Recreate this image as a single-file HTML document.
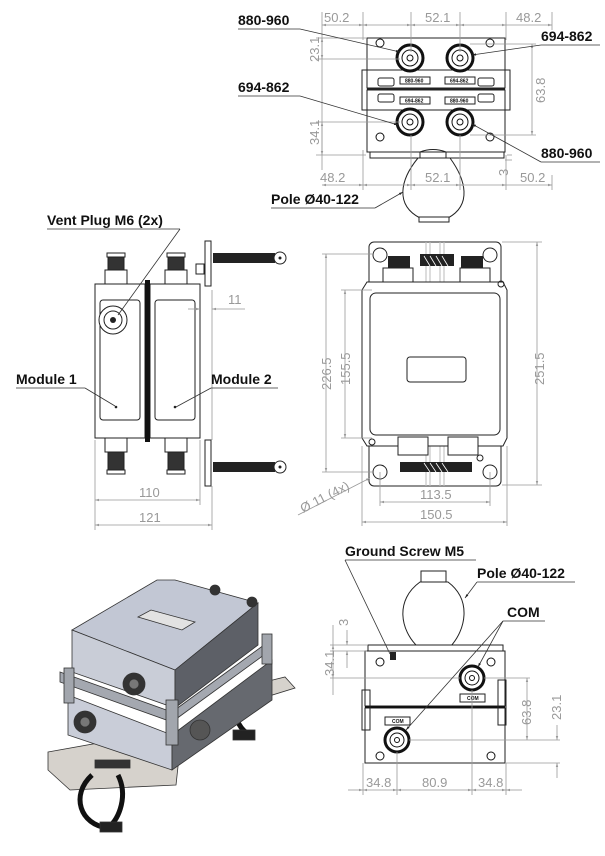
<!DOCTYPE html>
<html><head><meta charset="utf-8"><style>
html,body{margin:0;padding:0;background:#fff;}
svg{display:block;}
.d{font-family:"Liberation Sans",sans-serif;font-size:13px;fill:#999;}
.b{font-family:"Liberation Sans",sans-serif;font-size:14px;font-weight:bold;fill:#111;}
.t{font-family:"Liberation Sans",sans-serif;font-size:5px;font-weight:bold;fill:#111;}
.dl{stroke:#999;stroke-width:0.8;fill:none;}
.k{stroke:#222;stroke-width:1;fill:none;}
.kf{stroke:#222;stroke-width:1;fill:#fff;}
.ld{stroke:#333;stroke-width:0.8;fill:none;}
</style></head><body>
<svg width="605" height="856" viewBox="0 0 605 856" xmlns="http://www.w3.org/2000/svg">
<defs>
<marker id="a" viewBox="0 0 10 10" refX="10" refY="5" markerWidth="7" markerHeight="5" orient="auto-start-reverse"><path d="M0,2 L10,5 L0,8z" fill="#999"/></marker>
<marker id="ka" viewBox="0 0 10 10" refX="10" refY="5" markerWidth="7" markerHeight="5" orient="auto"><path d="M0,2 L10,5 L0,8z" fill="#222"/></marker>
</defs>

<!-- ================= TOP VIEW ================= -->
<g>
<rect x="367" y="38" width="138" height="50" class="kf"/>
<rect x="367" y="90" width="138" height="62" class="kf"/>
<line x1="367" y1="89" x2="505" y2="89" stroke="#222" stroke-width="2"/>
<rect x="362" y="70" width="148" height="40" class="k"/>
<rect x="378" y="78" width="16" height="8" rx="2" class="k"/><rect x="478" y="78" width="16" height="8" rx="2" class="k"/>
<rect x="378" y="94" width="16" height="8" rx="2" class="k"/><rect x="478" y="94" width="16" height="8" rx="2" class="k"/>
<rect x="400" y="77" width="30" height="7" class="kf"/><text class="t" x="405" y="82.5">880-960</text>
<rect x="445" y="77" width="30" height="7" class="kf"/><text class="t" x="450" y="82.5">694-862</text>
<rect x="400" y="97" width="30" height="7" class="kf"/><text class="t" x="405" y="102.5">694-862</text>
<rect x="445" y="97" width="30" height="7" class="kf"/><text class="t" x="450" y="102.5">880-960</text>
<g fill="none" stroke="#111">
<circle cx="410" cy="58" r="13" stroke-width="3"/><circle cx="410" cy="58" r="8"/><circle cx="410" cy="58" r="3"/>
<circle cx="460" cy="58" r="13" stroke-width="3"/><circle cx="460" cy="58" r="8"/><circle cx="460" cy="58" r="3"/>
<circle cx="410" cy="122" r="13" stroke-width="3"/><circle cx="410" cy="122" r="8"/><circle cx="410" cy="122" r="3"/>
<circle cx="460" cy="122" r="13" stroke-width="3"/><circle cx="460" cy="122" r="8"/><circle cx="460" cy="122" r="3"/>
<circle cx="380" cy="43" r="4"/><circle cx="490" cy="43" r="4"/><circle cx="380" cy="137" r="4"/><circle cx="490" cy="137" r="4"/>
</g>
<rect x="370" y="152" width="134" height="6" class="kf"/>
<path d="M420,152 Q433,147 446,152 L446,158 L420,158z" class="k"/>
<path d="M418,158 C400,180 395,205 420,218 L448,218 C472,205 466,180 450,158" class="k"/>
<rect x="419" y="217" width="30" height="5" class="kf"/>
<g class="dl">
<line x1="322" y1="12" x2="322" y2="170"/><line x1="363" y1="12" x2="363" y2="40"/><line x1="411" y1="12" x2="411" y2="52"/><line x1="460" y1="12" x2="460" y2="52"/><line x1="506" y1="12" x2="506" y2="40"/><line x1="552" y1="12" x2="552" y2="30"/>
<line x1="322" y1="25" x2="363" y2="25" marker-start="url(#a)" marker-end="url(#a)"/>
<line x1="363" y1="25" x2="411" y2="25" marker-start="url(#a)" marker-end="url(#a)"/>
<line x1="411" y1="25" x2="460" y2="25" marker-start="url(#a)" marker-end="url(#a)"/>
<line x1="460" y1="25" x2="506" y2="25" marker-start="url(#a)" marker-end="url(#a)"/>
<line x1="506" y1="25" x2="552" y2="25" marker-end="url(#a)"/>
<line x1="316" y1="38" x2="366" y2="38"/><line x1="316" y1="59" x2="400" y2="59"/>
<line x1="322" y1="38" x2="322" y2="59" marker-start="url(#a)" marker-end="url(#a)"/>
<line x1="316" y1="122" x2="400" y2="122"/><line x1="316" y1="155" x2="366" y2="155"/>
<line x1="322" y1="122" x2="322" y2="155" marker-start="url(#a)" marker-end="url(#a)"/>
<line x1="470" y1="44" x2="536" y2="44"/><line x1="470" y1="135" x2="536" y2="135"/>
<line x1="532" y1="44" x2="532" y2="135" marker-start="url(#a)" marker-end="url(#a)"/>
<line x1="507" y1="155" x2="512" y2="155"/><line x1="505" y1="160" x2="512" y2="160"/>
<line x1="363" y1="150" x2="363" y2="190"/><line x1="411" y1="135" x2="411" y2="190"/><line x1="460" y1="135" x2="460" y2="190"/><line x1="506" y1="155" x2="506" y2="190"/><line x1="552" y1="175" x2="552" y2="190"/>
<line x1="322" y1="185" x2="363" y2="185" marker-start="url(#a)" marker-end="url(#a)"/>
<line x1="363" y1="185" x2="411" y2="185" marker-start="url(#a)" marker-end="url(#a)"/>
<line x1="411" y1="185" x2="460" y2="185" marker-start="url(#a)" marker-end="url(#a)"/>
<line x1="460" y1="185" x2="506" y2="185" marker-start="url(#a)" marker-end="url(#a)"/>
<line x1="506" y1="185" x2="552" y2="185" marker-end="url(#a)"/>
</g>
<text class="d" x="324" y="22">50.2</text><text class="d" x="425" y="22">52.1</text><text class="d" x="516" y="22">48.2</text>
<text class="d" x="320" y="182">48.2</text><text class="d" x="425" y="182">52.1</text><text class="d" x="520" y="182">50.2</text>
<text class="d" transform="translate(319,62) rotate(-90)">23.1</text>
<text class="d" transform="translate(319,145) rotate(-90)">34.1</text>
<text class="d" transform="translate(545,103) rotate(-90)">63.8</text>
<text class="d" transform="translate(508,176) rotate(-90)">3</text>
<text class="b" x="238" y="25">880-960</text><line class="ld" x1="238" y1="29" x2="300" y2="29"/><line class="ld" x1="300" y1="29" x2="400" y2="52" marker-end="url(#ka)"/>
<text class="b" x="541" y="41">694-862</text><line class="ld" x1="541" y1="45" x2="600" y2="45"/><line class="ld" x1="541" y1="45" x2="472" y2="55" marker-end="url(#ka)"/>
<text class="b" x="238" y="92">694-862</text><line class="ld" x1="238" y1="96" x2="300" y2="96"/><line class="ld" x1="300" y1="96" x2="398" y2="125" marker-end="url(#ka)"/>
<text class="b" x="541" y="158">880-960</text><line class="ld" x1="541" y1="162" x2="600" y2="162"/><line class="ld" x1="541" y1="162" x2="472" y2="124" marker-end="url(#ka)"/>
<text class="b" x="271" y="204">Pole Ø40-122</text><line class="ld" x1="271" y1="208" x2="375" y2="208"/><line class="ld" x1="375" y1="208" x2="403" y2="192" marker-end="url(#ka)"/>
</g>

<!-- ================= SIDE VIEW ================= -->
<g>
<rect x="95" y="284" width="50" height="154" class="kf"/>
<rect x="150" y="284" width="50" height="154" class="kf"/>
<rect x="145" y="280" width="5" height="162" fill="#111"/>
<rect x="100" y="300" width="40" height="120" rx="3" class="k"/>
<rect x="155" y="300" width="40" height="120" rx="3" class="k"/>
<circle cx="113" cy="320" r="14" class="kf"/><circle cx="113" cy="320" r="9" class="k"/><circle cx="113" cy="320" r="3" fill="#222"/>
<g fill="#fff" stroke="#222">
<rect x="105" y="270" width="22" height="14"/><rect x="108" y="255" width="16" height="15" fill="#333"/><rect x="107" y="253" width="18" height="4"/>
<rect x="165" y="270" width="22" height="14"/><rect x="168" y="255" width="16" height="15" fill="#333"/><rect x="167" y="253" width="18" height="4"/>
<rect x="105" y="438" width="22" height="14"/><rect x="108" y="452" width="16" height="20" fill="#333"/><rect x="107" y="470" width="18" height="4"/>
<rect x="165" y="438" width="22" height="14"/><rect x="168" y="452" width="16" height="20" fill="#333"/><rect x="167" y="470" width="18" height="4"/>
</g>
<rect x="205" y="241" width="6" height="45" class="kf"/><rect x="205" y="440" width="6" height="46" class="kf"/>
<rect x="196" y="264" width="8" height="10" class="kf"/>
<rect x="213" y="253" width="62" height="10" fill="#222"/><circle cx="280" cy="258" r="6" class="kf"/><circle cx="280" cy="258" r="1.5" fill="#222"/>
<rect x="213" y="462" width="62" height="10" fill="#222"/><circle cx="280" cy="467" r="6" class="kf"/><circle cx="280" cy="467" r="1.5" fill="#222"/>
<g class="dl">
<line x1="95" y1="440" x2="95" y2="530"/><line x1="200" y1="440" x2="200" y2="505"/><line x1="212" y1="486" x2="212" y2="530"/><line x1="212" y1="290" x2="212" y2="440"/>
<line x1="95" y1="500" x2="200" y2="500" marker-start="url(#a)" marker-end="url(#a)"/>
<line x1="95" y1="525" x2="212" y2="525" marker-start="url(#a)" marker-end="url(#a)"/>
<line x1="188" y1="309" x2="200" y2="309" marker-end="url(#a)"/><line x1="245" y1="309" x2="212" y2="309" marker-end="url(#a)"/>
</g>
<text class="d" x="139" y="497">110</text><text class="d" x="139" y="522">121</text><text class="d" x="228" y="304">11</text>
<text class="b" x="47" y="225">Vent Plug M6 (2x)</text><line class="ld" x1="47" y1="229" x2="180" y2="229"/><line class="ld" x1="180" y1="229" x2="118" y2="315"/>
<text class="b" x="16" y="384">Module 1</text><line class="ld" x1="16" y1="388" x2="85" y2="388"/><line class="ld" x1="85" y1="388" x2="115" y2="406"/><circle cx="116" cy="407" r="1.3" fill="#222"/>
<text class="b" x="211" y="384">Module 2</text><line class="ld" x1="211" y1="388" x2="278" y2="388"/><line class="ld" x1="211" y1="388" x2="176" y2="407"/><circle cx="175" cy="407" r="1.3" fill="#222"/>
</g>

<!-- ================= FRONT VIEW ================= -->
<g>
<rect x="369" y="242" width="132" height="244" rx="5" class="kf"/>
<g stroke="#bbb"><line x1="426" y1="242" x2="426" y2="486"/><line x1="430" y1="242" x2="430" y2="486"/><line x1="440" y1="242" x2="440" y2="486"/><line x1="444" y1="242" x2="444" y2="486"/></g>
<path d="M367,282 L503,282 L507,290 L507,438 L503,446 L367,446 L362,438 L362,290z" class="kf"/>
<rect x="370" y="293" width="130" height="142" rx="6" class="k"/>
<rect x="407" y="357" width="59" height="25" rx="3" class="k"/>
<g fill="none" stroke="#222">
<circle cx="380" cy="255" r="7"/><circle cx="490" cy="255" r="7"/><circle cx="380" cy="472" r="7"/><circle cx="490" cy="472" r="7"/>
<circle cx="372" cy="442" r="3"/><circle cx="501" cy="284" r="3"/><circle cx="480" cy="458" r="3"/>
</g>
<g fill="#222">
<rect x="388" y="256" width="22" height="12"/><rect x="461" y="256" width="22" height="12"/><rect x="420" y="254" width="34" height="12"/>
<rect x="400" y="462" width="22" height="10"/><rect x="450" y="462" width="22" height="10"/><rect x="420" y="462" width="34" height="10"/>
</g>
<g stroke="#fff" stroke-width="0.8"><line x1="424" y1="256" x2="430" y2="266"/><line x1="430" y1="256" x2="436" y2="266"/><line x1="436" y1="256" x2="442" y2="266"/><line x1="442" y1="256" x2="448" y2="266"/>
<line x1="424" y1="463" x2="430" y2="472"/><line x1="430" y1="463" x2="436" y2="472"/><line x1="436" y1="463" x2="442" y2="472"/><line x1="442" y1="463" x2="448" y2="472"/></g>
<rect x="383" y="268" width="30" height="14" class="kf"/><rect x="460" y="268" width="30" height="14" class="kf"/>
<rect x="398" y="437" width="30" height="18" class="kf"/><rect x="448" y="437" width="30" height="18" class="kf"/>
<g class="dl">
<line x1="322" y1="254" x2="372" y2="254"/><line x1="322" y1="472" x2="372" y2="472"/>
<line x1="326" y1="254" x2="326" y2="472" marker-start="url(#a)" marker-end="url(#a)"/>
<line x1="341" y1="290" x2="372" y2="290"/><line x1="341" y1="438" x2="372" y2="438"/>
<line x1="345" y1="290" x2="345" y2="438" marker-start="url(#a)" marker-end="url(#a)"/>
<line x1="502" y1="242" x2="542" y2="242"/><line x1="502" y1="485" x2="542" y2="485"/>
<line x1="537" y1="242" x2="537" y2="485" marker-start="url(#a)" marker-end="url(#a)"/>
<line x1="380" y1="472" x2="380" y2="506"/><line x1="490" y1="472" x2="490" y2="506"/>
<line x1="380" y1="502" x2="490" y2="502" marker-start="url(#a)" marker-end="url(#a)"/>
<line x1="362" y1="446" x2="362" y2="526"/><line x1="507" y1="446" x2="507" y2="526"/>
<line x1="362" y1="522" x2="507" y2="522" marker-start="url(#a)" marker-end="url(#a)"/>
<line x1="298" y1="515" x2="370" y2="478" marker-end="url(#a)"/>
</g>
<text class="d" x="420" y="499">113.5</text><text class="d" x="420" y="519">150.5</text>
<text class="d" transform="translate(331,390) rotate(-90)">226.5</text>
<text class="d" transform="translate(350,385) rotate(-90)">155.5</text>
<text class="d" transform="translate(544,385) rotate(-90)">251.5</text>
<text class="d" transform="translate(303,513) rotate(-27)">Ø 11 (4x)</text>
</g>

<!-- ================= ISO VIEW ================= -->
<g stroke="#333" stroke-width="0.8">
<polygon points="48,752 160,732 180,748 176,785 70,790 48,770" fill="#d6d2cc"/>
<polygon points="232,690 285,677 295,688 240,705" fill="#d6d2cc"/>
<path d="M92,775 C70,795 80,825 108,828 M118,775 C128,795 120,818 108,828" fill="none" stroke="#111" stroke-width="5"/>
<rect x="100" y="822" width="22" height="10" fill="#222"/>
<path d="M232,705 C236,720 240,730 250,735" fill="none" stroke="#111" stroke-width="5"/>
<rect x="233" y="730" width="22" height="10" fill="#222"/>
<polygon points="68,695 172,735 172,770 68,735" fill="#c9cdd8"/>
<polygon points="172,735 272,660 272,700 172,770" fill="#66696f"/>
<polygon points="72,630 157,580 175,580 258,603 175,670" fill="#c2c7d4"/>
<polygon points="72,630 175,670 175,708 72,672" fill="#c9cdd7"/>
<polygon points="175,670 258,603 258,645 175,708" fill="#5d6067"/>
<polygon points="138,617 151,610 195,622 182,630" fill="#e2e2e2"/>
<polygon points="60,672 172,712 268,642 268,652 172,722 60,682" fill="#a4a8b0"/>
<rect x="64" y="668" width="10" height="35" fill="#a2a6ad"/>
<rect x="166" y="700" width="12" height="45" fill="#a2a6ad"/>
<rect x="262" y="634" width="10" height="30" fill="#a2a6ad"/>
<circle cx="134" cy="684" r="11" fill="#333"/><circle cx="134" cy="684" r="5" fill="#777"/>
<circle cx="85" cy="722" r="11" fill="#333"/><circle cx="85" cy="722" r="5" fill="#777"/>
<circle cx="200" cy="730" r="10" fill="#555"/>
<circle cx="215" cy="590" r="5" fill="#333"/><circle cx="252" cy="602" r="5" fill="#333"/>
<rect x="95" y="760" width="35" height="8" fill="#333"/>
</g>

<!-- ================= BOTTOM VIEW ================= -->
<g>
<path d="M418,647 C400,630 395,600 420,582 L448,582 C472,600 466,630 450,647" class="k"/>
<rect x="421" y="571" width="25" height="11" class="kf"/>
<rect x="368" y="645" width="135" height="6" class="kf"/>
<rect x="365" y="651" width="140" height="55" class="kf"/>
<rect x="365" y="708" width="140" height="55" class="kf"/>
<line x1="365" y1="707" x2="505" y2="707" stroke="#111" stroke-width="2"/>
<rect x="362" y="690" width="8" height="40" class="k"/><rect x="498" y="680" width="8" height="45" class="k"/>
<rect x="460" y="694" width="25" height="8" class="kf"/><text class="t" x="467" y="700">COM</text>
<rect x="385" y="717" width="25" height="8" class="kf"/><text class="t" x="392" y="723">COM</text>
<rect x="390" y="652" width="6" height="8" fill="#222"/>
<g fill="none" stroke="#111">
<circle cx="472" cy="678" r="12" stroke-width="3"/><circle cx="472" cy="678" r="7"/><circle cx="472" cy="678" r="2.5"/>
<circle cx="397" cy="740" r="12" stroke-width="3"/><circle cx="397" cy="740" r="7"/><circle cx="397" cy="740" r="2.5"/>
<circle cx="380" cy="662" r="4"/><circle cx="491" cy="662" r="4"/><circle cx="380" cy="756" r="4"/><circle cx="491" cy="756" r="4"/>
</g>
<g class="dl">
<line x1="330" y1="645" x2="367" y2="645"/><line x1="330" y1="651" x2="367" y2="651"/><line x1="330" y1="678" x2="460" y2="678"/>
<line x1="347" y1="630" x2="347" y2="645" marker-end="url(#a)"/><line x1="347" y1="668" x2="347" y2="651" marker-end="url(#a)"/>
<line x1="333" y1="645" x2="333" y2="678" marker-start="url(#a)" marker-end="url(#a)"/>
<line x1="333" y1="625" x2="333" y2="645"/><line x1="333" y1="678" x2="333" y2="695"/>
<line x1="484" y1="678" x2="530" y2="678"/><line x1="409" y1="740" x2="560" y2="740"/><line x1="505" y1="763" x2="560" y2="763"/>
<line x1="527" y1="678" x2="527" y2="740" marker-start="url(#a)" marker-end="url(#a)"/>
<line x1="557" y1="725" x2="557" y2="740" marker-end="url(#a)"/><line x1="557" y1="778" x2="557" y2="763" marker-end="url(#a)"/>
<line x1="363" y1="763" x2="363" y2="795"/><line x1="397" y1="752" x2="397" y2="795"/><line x1="472" y1="690" x2="472" y2="795"/><line x1="506" y1="763" x2="506" y2="795"/>
<line x1="348" y1="790" x2="363" y2="790" marker-end="url(#a)"/>
<line x1="363" y1="790" x2="397" y2="790" marker-start="url(#a)" marker-end="url(#a)"/>
<line x1="397" y1="790" x2="472" y2="790" marker-start="url(#a)" marker-end="url(#a)"/>
<line x1="472" y1="790" x2="506" y2="790" marker-start="url(#a)" marker-end="url(#a)"/>
<line x1="522" y1="790" x2="506" y2="790" marker-end="url(#a)"/>
</g>
<text class="d" x="366" y="787">34.8</text><text class="d" x="422" y="787">80.9</text><text class="d" x="478" y="787">34.8</text>
<text class="d" transform="translate(348,626) rotate(-90)">3</text>
<text class="d" transform="translate(334,676) rotate(-90)">34.1</text>
<text class="d" transform="translate(531,725) rotate(-90)">63.8</text>
<text class="d" transform="translate(561,720) rotate(-90)">23.1</text>
<text class="b" x="345" y="556">Ground Screw M5</text><line class="ld" x1="345" y1="560" x2="476" y2="560"/><line class="ld" x1="345" y1="560" x2="390" y2="654"/>
<text class="b" x="477" y="578">Pole Ø40-122</text><line class="ld" x1="477" y1="582" x2="575" y2="582"/><line class="ld" x1="477" y1="582" x2="465" y2="598" marker-end="url(#ka)"/>
<text class="b" x="507" y="617">COM</text><line class="ld" x1="503" y1="621" x2="545" y2="621"/>
<line class="ld" x1="503" y1="621" x2="478" y2="667" marker-end="url(#ka)"/>
<line class="ld" x1="503" y1="621" x2="406" y2="730" marker-end="url(#ka)"/>
</g>
</svg>
</body></html>
